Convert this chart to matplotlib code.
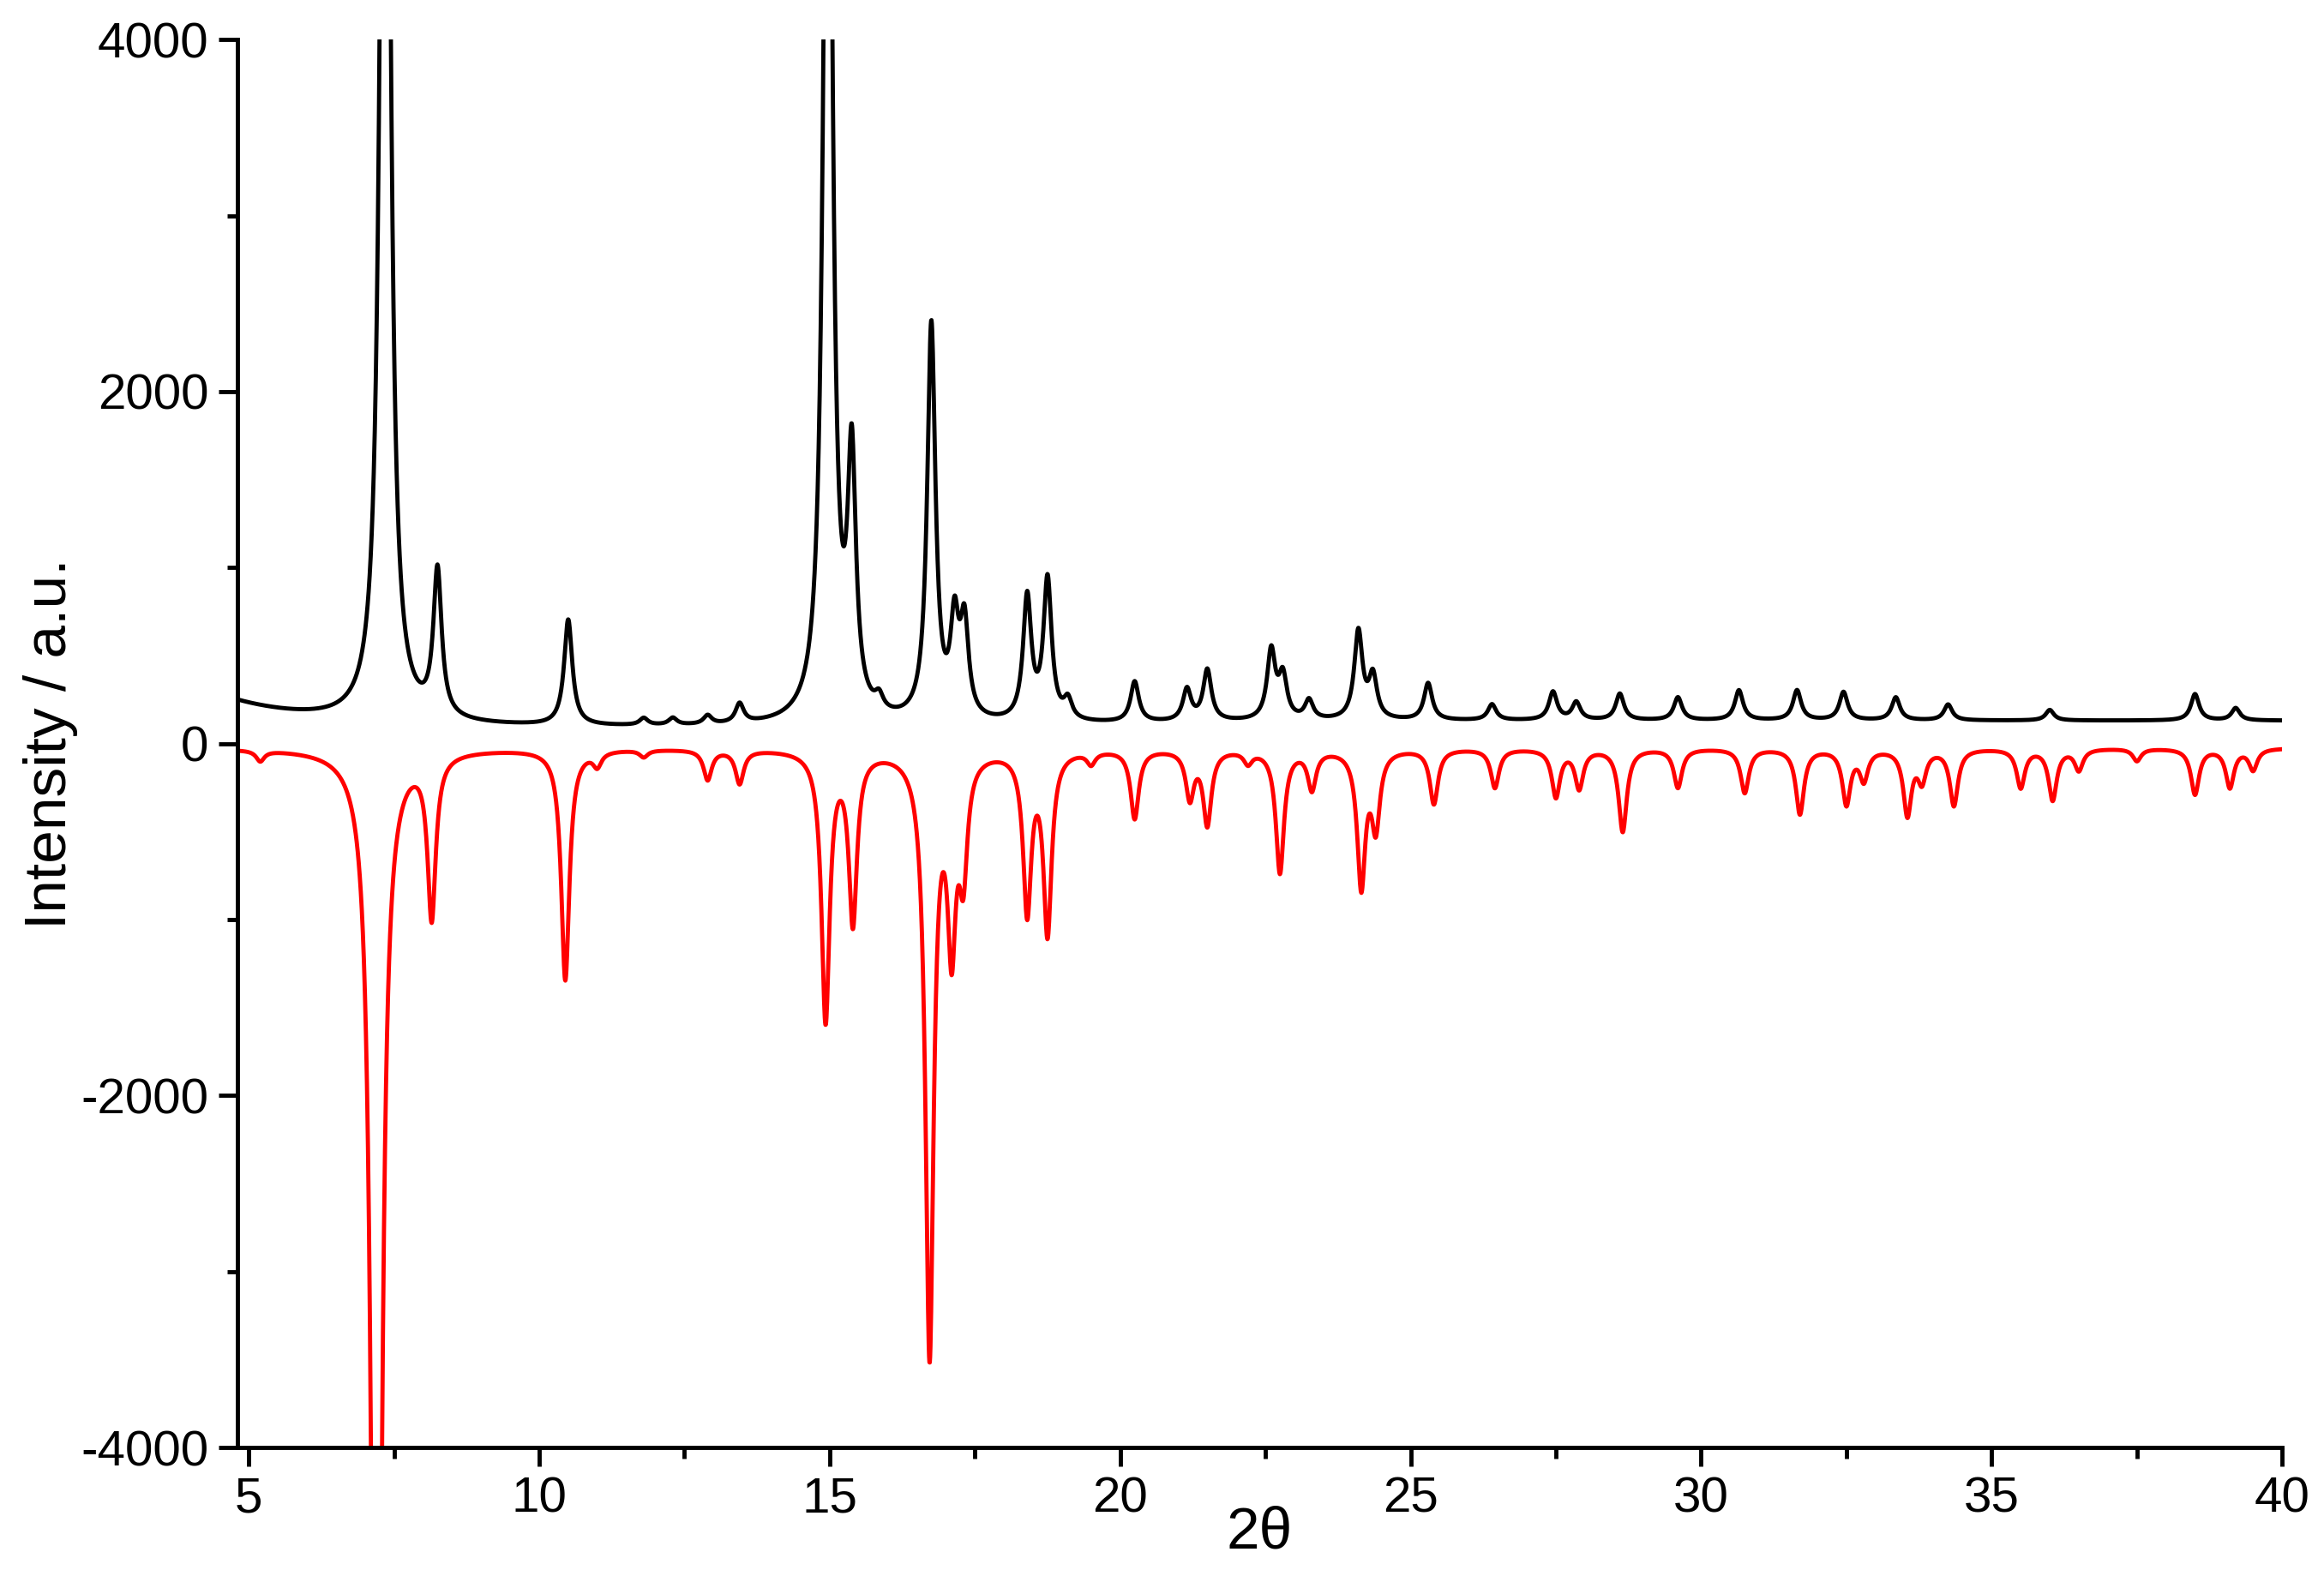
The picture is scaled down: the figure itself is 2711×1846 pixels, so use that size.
import numpy as np
import matplotlib.pyplot as plt
from matplotlib.ticker import MultipleLocator

plt.rcParams['font.family'] = ['Liberation Sans', 'DejaVu Sans']
plt.rcParams['axes.unicode_minus'] = False

# peak lists: position (2theta), height
obs_pos = [7.35, 8.25, 10.5, 11.8, 12.3, 12.9, 13.45, 14.97, 15.38, 15.85, 16.75, 17.15, 17.32,
           18.4, 18.75, 19.1, 20.25, 21.15, 21.5, 22.6, 22.8, 23.25, 24.1, 24.35, 25.3, 26.4,
           27.45, 27.85, 28.6, 29.6, 30.65, 31.65, 32.45, 33.35, 34.25, 36.0, 38.5, 39.2]
obs_h = [9000, 830, 600, 40, 40, 50, 110, 7000, 1420, 80, 2250, 520, 520,
         700, 800, 110, 230, 180, 290, 390, 240, 110, 500, 240, 210, 90,
         160, 100, 150, 130, 170, 170, 160, 130, 90, 60, 150, 70]
calc_pos = [5.2, 7.2, 8.15, 10.45, 11.0, 11.8, 12.9, 13.45, 14.93, 15.4, 16.72, 17.1, 17.3,
            18.4, 18.75, 19.5, 20.25, 21.2, 21.5, 22.2, 22.75, 23.3, 24.15, 24.4, 25.4, 26.45,
            27.5, 27.9, 28.65, 29.6, 30.75, 31.7, 32.5, 32.8, 33.55, 33.8, 34.35, 35.5, 36.05,
            36.5, 37.5, 38.5, 39.1, 39.5]
calc_h = [-60, -9000, -920, -1310, -80, -40, -170, -190, -1530, -960, -3420, -1020, -620,
          -900, -1020, -70, -390, -270, -420, -70, -700, -220, -770, -420, -310, -220,
          -270, -220, -470, -220, -250, -370, -310, -170, -370, -170, -320, -220, -290,
          -120, -70, -260, -220, -120]

x = np.linspace(4.8, 40, 6000)

def profile(pos, h, w=0.085):
    y = np.zeros_like(x)
    for p, a in zip(pos, h):
        y += a / (1 + ((x - p) / w) ** 2)
    return y

obs = 90 + 150 * np.exp(-(x - 4.8) / 1.5) + 40 / (1 + np.exp(-(x - 20) / 2)) + profile(obs_pos, obs_h)
calc = -25 + profile(calc_pos, calc_h)

fig = plt.figure(figsize=(27.11, 18.46), dpi=100)
ax = fig.add_axes([0.102, 0.085, 0.880, 0.890])
ax.plot(x, obs, color='black', lw=3.5)
ax.plot(x, calc, color='red', lw=3.5)

ax.set_xlim(4.8, 40)
ax.set_ylim(-4000, 4000)
ax.xaxis.set_major_locator(MultipleLocator(5))
ax.xaxis.set_minor_locator(MultipleLocator(2.5))
ax.yaxis.set_major_locator(MultipleLocator(2000))
ax.yaxis.set_minor_locator(MultipleLocator(1000))
for s in ['top', 'right']:
    ax.spines[s].set_visible(False)
for s in ['left', 'bottom']:
    ax.spines[s].set_linewidth(3.5)
ax.tick_params(which='major', length=16, width=3.5, labelsize=42, pad=8)
ax.tick_params(which='minor', length=9, width=3.5)
ax.set_xlabel('2θ', fontsize=50, labelpad=-14)
ax.set_ylabel('Intensity / a.u.', fontsize=50, labelpad=2)

fig.savefig('out.png', dpi=100)
